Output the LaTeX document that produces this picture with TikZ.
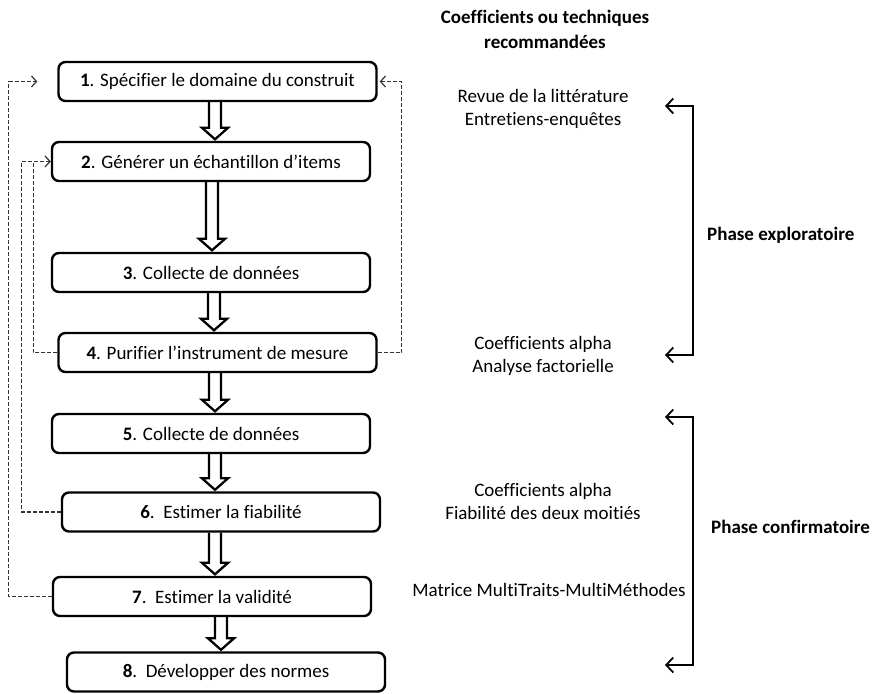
\documentclass[tikz,border=0pt]{standalone}
\usepackage{fontspec}
\setmainfont{Carlito}[Ligatures=CommonOff]
\usetikzlibrary{arrows.meta,calc}
\newcommand\hollowarr[3]{%
  \draw[harr] let \p1=(#1.south), \p2=(#2.north) in
    ({#3pt-6pt},\y1) -- ({#3pt-6pt},\y2+13pt) -- ({#3pt-13pt},\y2+13pt) --
    ({#3pt},\y2+1.5pt) -- ({#3pt+13pt},\y2+13pt) -- ({#3pt+6pt},\y2+13pt) --
    ({#3pt+6pt},\y1);}
\begin{document}
\begin{tikzpicture}[x=1pt,y=-1pt,
  txt/.style={font=\fontsize{19}{23}\selectfont, inner sep=0pt, align=center},
  box/.style={draw, line width=2.4pt, rounded corners=7pt, minimum height=39pt,
              minimum width=318pt, inner sep=0pt, font=\fontsize{19}{23}\selectfont},
  harr/.style={line width=2.3pt, line join=miter},
  fbline/.style={line width=1.2pt, dash pattern=on 4pt off 2pt, black!80},
  fb/.style={fbline, -{Straight Barb[length=5pt,width=11pt,line width=1.2pt]}},
  brk/.style={line width=1.8pt,
    {Straight Barb[length=7pt,width=15pt]}-{Straight Barb[length=7pt,width=15pt]}}
]
\useasboundingbox (0,0) rectangle (880,693);

% boxes
\node[box] (b1) at (217.5,81.5) {\textbf{1}. Spécifier le domaine du construit};
\node[box] (b2) at (211,161.5) {\textbf{2}. Générer un échantillon d’items};
\node[box] (b3) at (211,272.5) {\textbf{3}. Collecte de données};
\node[box] (b4) at (217.5,352.5) {\textbf{4}. Purifier l’instrument de mesure};
\node[box] (b5) at (211,433.5) {\textbf{5}. Collecte de données};
\node[box] (b6) at (221,512) {\textbf{6}.\ \ Estimer la fiabilité};
\node[box] (b7) at (212,596.5) {\textbf{7}.\ \ Estimer la validité};
\node[box] (b8) at (226,672) {\textbf{8}.\ \ Développer des normes};

% hollow arrows
\hollowarr{b1}{b2}{215}
\hollowarr{b2}{b3}{212}
\hollowarr{b3}{b4}{214}
\hollowarr{b4}{b5}{215}
\hollowarr{b5}{b6}{215}
\hollowarr{b6}{b7}{215}
\hollowarr{b7}{b8}{221}

% feedback dashed lines
\draw[fb, shorten >=2pt] (b4.east) -- ++(24,0) |- (b1.east);
\draw[fb] (b4.west) -- ++(-24,0) |- (b2.west);
\draw[fbline] (b6.west) -- ++(-39,0) |- ($(b2.west)+(-17,0)$);
\draw[fb, shorten >=20pt] (b7.west) -- ++(-43,0) |- (b1.west);

% right column texts
\node[txt, font=\fontsize{19}{25}\selectfont\bfseries] (title) at (545,29)
  {Coefficients ou techniques\\recommandées};
\node[txt] (t1) at (543,109) {Revue de la littérature\\Entretiens-enquêtes};
\node[txt] (t4) at (543,356) {Coefficients alpha\\Analyse factorielle};
\node[txt] (t6) at (543,501.5) {Coefficients alpha\\Fiabilité des deux moitiés};
\node[txt] (t7) at (549,590) {Matrice MultiTraits-MultiMéthodes};

% brackets
\coordinate (ex1) at (665,106);
\coordinate (ex1c) at (693,106);
\coordinate (ex2c) at (693,355);
\coordinate (ex2) at (665,355);
\draw[brk] (ex1) -- (ex1c) -- (ex2c) -- (ex2);
\coordinate (cf1) at (665,417);
\coordinate (cf1c) at (693,417);
\coordinate (cf2c) at (693,665);
\coordinate (cf2) at (665,665);
\draw[brk] (cf1) -- (cf1c) -- (cf2c) -- (cf2);

\node[txt, anchor=west, font=\fontsize{19}{23}\selectfont\bfseries] (lex) at (707,235) {Phase exploratoire};
\node[txt, anchor=west, font=\fontsize{19}{23}\selectfont\bfseries] (lcf) at (711,527) {Phase confirmatoire};
\end{tikzpicture}
\end{document}
